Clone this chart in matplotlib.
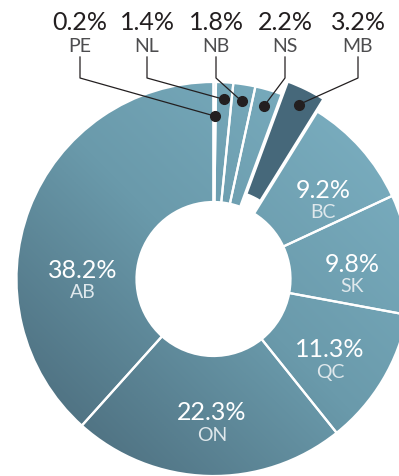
import numpy as np
import matplotlib.pyplot as plt
from matplotlib.colors import LinearSegmentedColormap

# datos de la grafica
provincias = ["PE", "NL", "NB", "NS", "MB", "BC", "SK", "QC", "ON", "AB"]
porcentajes = [0.2, 1.4, 1.8, 2.2, 3.2, 9.2, 9.8, 11.3, 22.3, 38.2]
separado = [0, 0, 0, 0, 14, 0, 0, 0, 0, 0]

# provincias pequenas van con etiqueta arriba
pequenas = ["PE", "NL", "NB", "NS", "MB"]
etiqueta_x = [80, 147, 216, 285, 358]

# posiciones de las etiquetas dentro de la dona (pixeles)
etiquetas_dentro = {"BC": (323, 190), "SK": (352, 264), "QC": (330, 350),
                    "ON": (212, 413), "AB": (83, 270)}

W, H = 399, 477
fig = plt.figure(figsize=(W / 100, H / 100), dpi=100)
ax = fig.add_axes([0, 0, 1, 1])

cx, cy = 213.5, H - 280
R = 197
ancho = 120

wedges, _ = ax.pie(porcentajes, center=(cx, cy), radius=R, startangle=90,
                   counterclock=False, explode=separado, frame=True,
                   wedgeprops=dict(width=ancho, edgecolor="white", linewidth=1.6))
ax.set_xlim(0, W)
ax.set_ylim(0, H)
ax.set_aspect("equal")
ax.axis("off")

# degradado de arriba-derecha (claro) a abajo-izquierda (oscuro)
cmap = LinearSegmentedColormap.from_list("deg", ["#4a6a7a", "#6a9aab", "#7cb0c2"])
xx, yy = np.meshgrid(np.linspace(0, W, 200), np.linspace(0, H, 240))
p0 = np.array([40, H - 460])
p1 = np.array([395, H - 100])
d = p1 - p0
t = ((xx - p0[0]) * d[0] + (yy - p0[1]) * d[1]) / (d @ d)
t = np.clip(t, 0, 1)

for w, prov in zip(wedges, provincias):
    if prov == "MB":
        w.set_facecolor("#46687a")
        continue
    w.set_facecolor("none")
    img = ax.imshow(t, cmap=cmap, origin="lower", extent=(0, W, 0, H),
                    vmin=0, vmax=1, zorder=0.5, interpolation="bilinear")
    img.set_clip_path(w)
    w.set_zorder(1)

# etiquetas dentro
for prov, pct in zip(provincias, porcentajes):
    if prov in etiquetas_dentro:
        x, y = etiquetas_dentro[prov]
        ax.text(x, H - y, f"{pct}%", ha="center", va="center", color="white",
                fontsize=18, family="Lato", zorder=3)
        ax.text(x, H - y - 23, prov, ha="center", va="center", color="#dfe8ec",
                fontsize=14, family="Lato", zorder=3)

# etiquetas de arriba con lineas y puntos
angulos = np.cumsum([0] + porcentajes[:-1]) / sum(porcentajes) * 360
medios = angulos + np.array(porcentajes) / sum(porcentajes) * 180
for prov, xl in zip(pequenas, etiqueta_x):
    i = provincias.index(prov)
    pct = porcentajes[i]
    ang = np.deg2rad(90 - medios[i])
    rr = 163 if prov == "PE" else 180
    ox = cx + separado[i] * np.cos(ang)
    oy = cy + separado[i] * np.sin(ang)
    px = ox + rr * np.cos(ang)
    py = oy + rr * np.sin(ang)
    ax.text(xl, H - 23, f"{pct}%", ha="center", va="center", color="#231f20",
            fontsize=18, family="Lato", zorder=3)
    ax.text(xl, H - 47, prov, ha="center", va="center", color="#4d4d4f",
            fontsize=14, family="Lato", zorder=3)
    ax.plot([xl, xl, px], [H - 58, H - 79, py], color="#231f20", lw=0.9, zorder=4)
    ax.plot(px, py, "o", color="#231f20", ms=7, zorder=5)

fig.savefig("out.png", dpi=100)
